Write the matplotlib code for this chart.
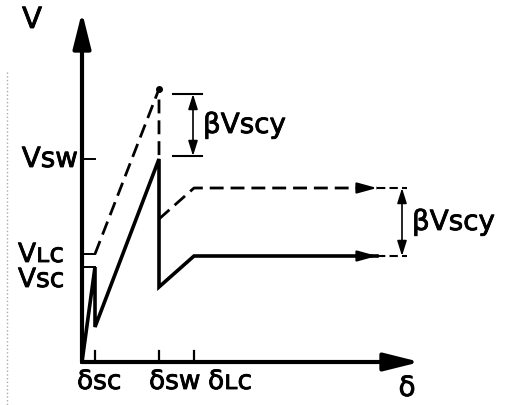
import matplotlib.pyplot as plt
import matplotlib.patheffects as pe

# displacement marks on the delta axis
delta_names = ['δsc', 'δsw', 'δʟc']
delta_vals = [13, 77, 112]

# voltage marks on the V axis
v_names = ['Vsw', 'Vʟc', 'Vsc']
v_vals = [203, 108, 95]

# solid curve (actual)
solid_x = [0, 13, 13, 77, 77, 112, 295]
solid_y = [0, 95, 35, 203, 75, 106, 106]

# dashed curve (shifted by beta*Vscy)
dash1_x = [13, 77, 77]
dash1_y = [108, 273, 203]
dash2_x = [77, 112, 295]
dash2_y = [143, 174, 174]

# beta*Vscy brackets: (x of arrow, lower, upper, line start, line end)
brackets = [(111, 206, 268, 91, 120), (320, 106, 174, 295, 325)]
bracket_text = ['βVscy', 'βVscy']

x_axis_end = 338
y_axis_end = 350

# slightly heavier lettering
heavy = [pe.withStroke(linewidth=0.6, foreground='black')]


def arrow(ax, x0, y0, x1, y1, style, lw, scale):
    ax.annotate('', xy=(x1, y1), xytext=(x0, y0),
                arrowprops=dict(arrowstyle=style, lw=lw, color='black',
                                mutation_scale=scale, shrinkA=0, shrinkB=0))


def label(ax, x, y, s, size, ha, va):
    ax.text(x, y, s, fontsize=size, ha=ha, va=va, path_effects=heavy)


def main():
    fig = plt.figure(figsize=(5.05, 4.06), dpi=100)
    ax = fig.add_axes([0, 0, 1, 1])
    ax.set_xlim(-82, 423)
    ax.set_ylim(-43, 363)
    ax.axis('off')

    # axes with arrow heads
    arrow(ax, 0, 0, x_axis_end, 0, '-|>,head_length=1.2,head_width=0.3', 3, 18)
    arrow(ax, 0, 0, 0, y_axis_end, '-|>,head_length=1.2,head_width=0.3', 3, 18)

    # ticks
    for x in delta_vals:
        ax.plot([x, x], [0, 11], color='black', lw=1.6)
    for y in v_vals:
        ax.plot([0, 13], [y, y], color='black', lw=1.4)

    ax.plot(solid_x, solid_y, color='black', lw=2.6, solid_joinstyle='miter')
    ax.plot(dash1_x, dash1_y, color='black', lw=2.0, linestyle=(0, (5, 2.5)))
    ax.plot(dash2_x, dash2_y, color='black', lw=2.0, linestyle=(0, (5, 2.5)))
    ax.plot([dash1_x[1]], [dash1_y[1]], 'o', color='black', ms=4)

    # arrow heads at the ends of the plateaus
    arrow(ax, solid_x[-1] - 18, solid_y[-1], solid_x[-1], solid_y[-1],
          '-|>,head_length=0.8,head_width=0.22', 1.5, 15)
    arrow(ax, dash2_x[-1] - 18, dash2_y[-1], dash2_x[-1], dash2_y[-1],
          '-|>,head_length=0.8,head_width=0.22', 1.5, 15)

    # brackets
    for i, (bx, lo, hi, xs, xe) in enumerate(brackets):
        ls = '-' if i == 0 else (0, (4, 2))
        ax.plot([xs, xe], [lo, lo], color='black', lw=1.5, linestyle=ls)
        ax.plot([xs, xe], [hi, hi], color='black', lw=1.5, linestyle=ls)
        arrow(ax, bx, lo, bx, hi, '<|-|>,head_length=0.7,head_width=0.22', 1.2, 13)
        label(ax, bx + 10, (lo + hi) / 2, bracket_text[i], 20, 'left', 'center')

    # labels
    label(ax, -50, 342, 'V', 21, 'center', 'center')
    label(ax, 407 - 82, 363 - 389, 'δ', 20, 'center', 'center')
    label(ax, -4, v_vals[0], v_names[0], 20, 'right', 'center')
    label(ax, -64, 100, v_names[1], 19, 'left', 'baseline')
    label(ax, -64, 75, v_names[2], 19, 'left', 'baseline')
    for name, left in zip(delta_names, [-5, 67, 126]):
        label(ax, left, -27, name, 19, 'left', 'baseline')

    # faint margin line along the left edge
    ax.plot([-75, -75], [290, -44], color='#aaaaaa', lw=1, linestyle=':')

    plt.savefig('out.png')


main()
